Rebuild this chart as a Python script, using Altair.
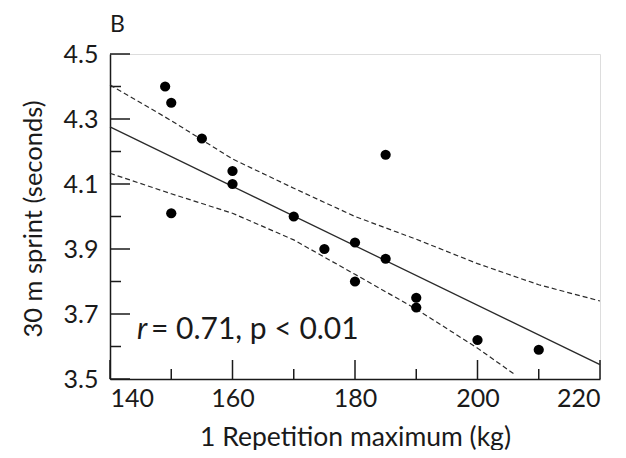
import altair as alt
import pandas as pd

# Scatter data: 1RM (kg) vs 30 m sprint (s)
rm_kg = [149, 150, 155, 160, 160, 150, 170, 185, 175, 180, 185, 180, 190, 190, 200, 210]
sprint_s = [4.40, 4.35, 4.24, 4.14, 4.10, 4.01, 4.00, 4.19, 3.90, 3.92, 3.87, 3.80, 3.75, 3.72, 3.62, 3.59]

# Regression line
fit_x = [140, 220]
fit_y = [4.276, 3.544]

# Confidence bands
upper_x = [140, 150, 160, 170, 180, 190, 200, 210, 220]
upper_y = [4.405, 4.295, 4.177, 4.087, 4.000, 3.930, 3.855, 3.790, 3.740]
lower_x = [140, 150, 160, 170, 180, 190, 200, 206]
lower_y = [4.133, 4.070, 4.010, 3.928, 3.822, 3.715, 3.595, 3.515]

# Ticks
x_major = [140, 160, 180, 200, 220]
x_minor = [150, 170, 190, 210]
y_major = [3.5, 3.7, 3.9, 4.1, 4.3, 4.5]
y_minor = [3.6, 3.8, 4.0, 4.2, 4.4]

# Annotation
ann_x = [144.4]
ann_y = [3.623]
panel_label = ["B"]

FONT = "Lato"
INK = "#1a1a1a"
W, H = 490, 325

xs = alt.Scale(domain=[140, 220], nice=False, zero=False)
ys = alt.Scale(domain=[3.5, 4.5], nice=False, zero=False)

X = alt.X("x:Q", scale=xs, title="1 Repetition maximum (kg)",
          axis=alt.Axis(values=x_major, ticks=False, grid=False, domainColor=INK, domainWidth=1.5,
                        labelFont=FONT, labelFontSize=25, labelColor=INK, labelPadding=7,
                        titleFont=FONT, titleFontSize=26.5, titleFontWeight="normal", titleColor=INK,
                        titleY=66, titleBaseline="alphabetic"))
Y = alt.Y("y:Q", scale=ys, title="30 m sprint (seconds)",
          axis=alt.Axis(values=y_major, ticks=False, grid=False, domainColor=INK, domainWidth=1.5,
                        labelFont=FONT, labelFontSize=25, labelColor=INK, labelPadding=12,
                        labelFlush=False, format=".1f",
                        titleFont=FONT, titleFontSize=25.5, titleFontWeight="normal", titleColor=INK,
                        titleX=-77, titleY=H / 2 + 2, titleBaseline="middle", titleAlign="center"))

pts = pd.DataFrame({"x": rm_kg, "y": sprint_s})
fit = pd.DataFrame({"x": fit_x, "y": fit_y})
up = pd.DataFrame({"x": upper_x, "y": upper_y})
lo = pd.DataFrame({"x": lower_x, "y": lower_y})

points = alt.Chart(pts).mark_circle(size=105, color="black", opacity=1).encode(x=X, y=Y)
fit_line = alt.Chart(fit).mark_line(color="#2a2a2a", strokeWidth=1.3).encode(x=X, y=Y)
up_line = alt.Chart(up).mark_line(color="#2a2a2a", strokeWidth=1.2, strokeDash=[5, 3]).encode(x=X, y=Y)
lo_line = alt.Chart(lo).mark_line(color="#2a2a2a", strokeWidth=1.2, strokeDash=[5, 3]).encode(x=X, y=Y)

xmaj = alt.Chart(pd.DataFrame({"x": x_major})).mark_rule(color=INK, strokeWidth=1.5).encode(
    x=X, y=alt.value(H), y2=alt.value(H - 19))
xmin = alt.Chart(pd.DataFrame({"x": x_minor})).mark_rule(color=INK, strokeWidth=1.5).encode(
    x=X, y=alt.value(H), y2=alt.value(H - 10))
ymaj = alt.Chart(pd.DataFrame({"y": y_major})).mark_rule(color=INK, strokeWidth=1.5).encode(
    y=Y, x=alt.value(0), x2=alt.value(20))
ymin = alt.Chart(pd.DataFrame({"y": y_minor})).mark_rule(color=INK, strokeWidth=1.5).encode(
    y=Y, x=alt.value(0), x2=alt.value(11))

ann = pd.DataFrame({"x": ann_x, "y": ann_y})
ann_r = alt.Chart(ann).mark_text(text="r", font=FONT, fontSize=30, fontStyle="italic", align="left",
                                 baseline="alphabetic", color=INK).encode(x=X, y=Y)
ann_rest = alt.Chart(ann).mark_text(text="= 0.71, p < 0.01", font=FONT, fontSize=30, align="left",
                                    baseline="alphabetic", color=INK, dx=14).encode(x=X, y=Y)

label_b = alt.Chart(pd.DataFrame({"t": panel_label})).mark_text(
    font=FONT, fontSize=23, align="left", baseline="alphabetic", color=INK
).encode(text="t:N", x=alt.value(0), y=alt.value(-22))

chart = alt.layer(xmaj, xmin, ymaj, ymin, up_line, lo_line, fit_line, points, ann_r, ann_rest, label_b).properties(
    width=W, height=H,
    autosize=alt.AutoSizeParams(type="none"),
    padding={"left": 102, "top": 46, "right": 18, "bottom": 71},
).configure_view(stroke=None).configure(background="white")

chart.save("out.html", embed_options={"renderer": "svg", "actions": False})
